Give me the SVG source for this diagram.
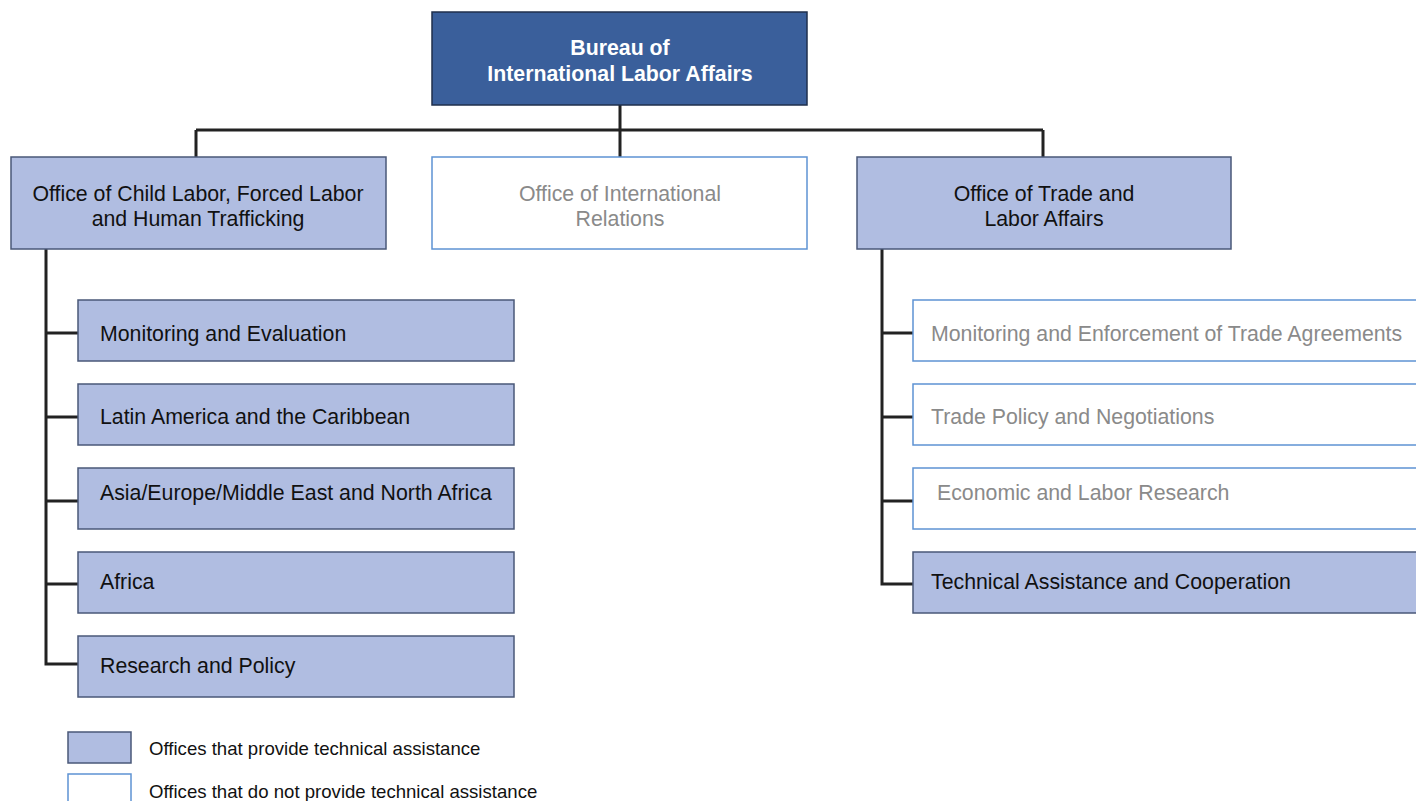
<svg xmlns="http://www.w3.org/2000/svg" width="1416" height="801" viewBox="0 0 1416 801">
  <style>
    text { font-family: "Liberation Sans", Arial, sans-serif; font-size: 21.3px; }
    .ta { fill: #b0bde1; stroke: #4a5878; stroke-width: 1.5; }
    .nta { fill: #ffffff; stroke: #5e93d3; stroke-width: 1.5; }
    .top { fill: #3a5f9b; stroke: #1f2f4c; stroke-width: 1.5; }
    .dark { fill: #111111; }
    .grey { fill: #8a8a8a; }
    .white { fill: #ffffff; font-weight: bold; }
    .mid { text-anchor: middle; }
    .legend { font-size: 18.6px; fill: #111111; }
    .conn { fill: none; stroke: #222222; stroke-width: 3; }
  </style>

  <!-- connectors -->
  <g id="connectors">
    <path class="conn" d="M620,105 V130 M196,130 H1043 M196,130 V157 M620,130 V157 M1043,130 V157"/>
    <path class="conn" d="M46,249 V664 H78 M46,333 H78 M46,417 H78 M46,501 H78 M46,584 H78"/>
    <path class="conn" d="M882,249 V584 H913 M882,333 H913 M882,417 H913 M882,501 H913"/>
  </g>

  <!-- head office -->
  <g id="bureau">
    <rect class="top" x="432" y="12" width="375" height="93"/>
    <text class="white mid" x="620" y="55">Bureau of</text>
    <text class="white mid" x="620" y="81">International Labor Affairs</text>
  </g>

  <!-- second level -->
  <g id="oclt">
    <rect class="ta" x="11" y="157" width="375" height="92"/>
    <text class="dark mid" x="198" y="201">Office of Child Labor, Forced Labor</text>
    <text class="dark mid" x="198" y="226">and Human Trafficking</text>
  </g>
  <g id="oir">
    <rect class="nta" x="432" y="157" width="375" height="92"/>
    <text class="grey mid" x="620" y="201">Office of International</text>
    <text class="grey mid" x="620" y="226">Relations</text>
  </g>
  <g id="otla">
    <rect class="ta" x="857" y="157" width="374" height="92"/>
    <text class="dark mid" x="1044" y="201">Office of Trade and</text>
    <text class="dark mid" x="1044" y="226">Labor Affairs</text>
  </g>

  <!-- OCFT divisions -->
  <g id="oclt-me">
    <rect class="ta" x="78" y="300" width="436" height="61"/>
    <text class="dark" x="100" y="341">Monitoring and Evaluation</text>
  </g>
  <g id="oclt-lac">
    <rect class="ta" x="78" y="384" width="436" height="61"/>
    <text class="dark" x="100" y="424">Latin America and the Caribbean</text>
  </g>
  <g id="oclt-aemena">
    <rect class="ta" x="78" y="468" width="436" height="61"/>
    <text class="dark" x="100" y="500">Asia/Europe/Middle East and North Africa</text>
  </g>
  <g id="oclt-africa">
    <rect class="ta" x="78" y="552" width="436" height="61"/>
    <text class="dark" x="100" y="589">Africa</text>
  </g>
  <g id="oclt-rp">
    <rect class="ta" x="78" y="636" width="436" height="61"/>
    <text class="dark" x="100" y="673">Research and Policy</text>
  </g>

  <!-- OTLA divisions -->
  <g id="otla-meta">
    <rect class="nta" x="913" y="300" width="510" height="61"/>
    <text class="grey" x="931" y="341">Monitoring and Enforcement of Trade Agreements</text>
  </g>
  <g id="otla-tpn">
    <rect class="nta" x="913" y="384" width="510" height="61"/>
    <text class="grey" x="931" y="424">Trade Policy and Negotiations</text>
  </g>
  <g id="otla-elr">
    <rect class="nta" x="913" y="468" width="510" height="61"/>
    <text class="grey" x="937" y="500">Economic and Labor Research</text>
  </g>
  <g id="otla-tac">
    <rect class="ta" x="913" y="552" width="510" height="61"/>
    <text class="dark" x="931" y="589">Technical Assistance and Cooperation</text>
  </g>

  <!-- key -->
  <g id="legend">
    <rect class="ta" x="68" y="732" width="63" height="31"/>
    <text class="legend" x="149" y="755">Offices that provide technical assistance</text>
    <rect class="nta" x="68" y="774" width="63" height="40"/>
    <text class="legend" x="149" y="798">Offices that do not provide technical assistance</text>
  </g>
</svg>
